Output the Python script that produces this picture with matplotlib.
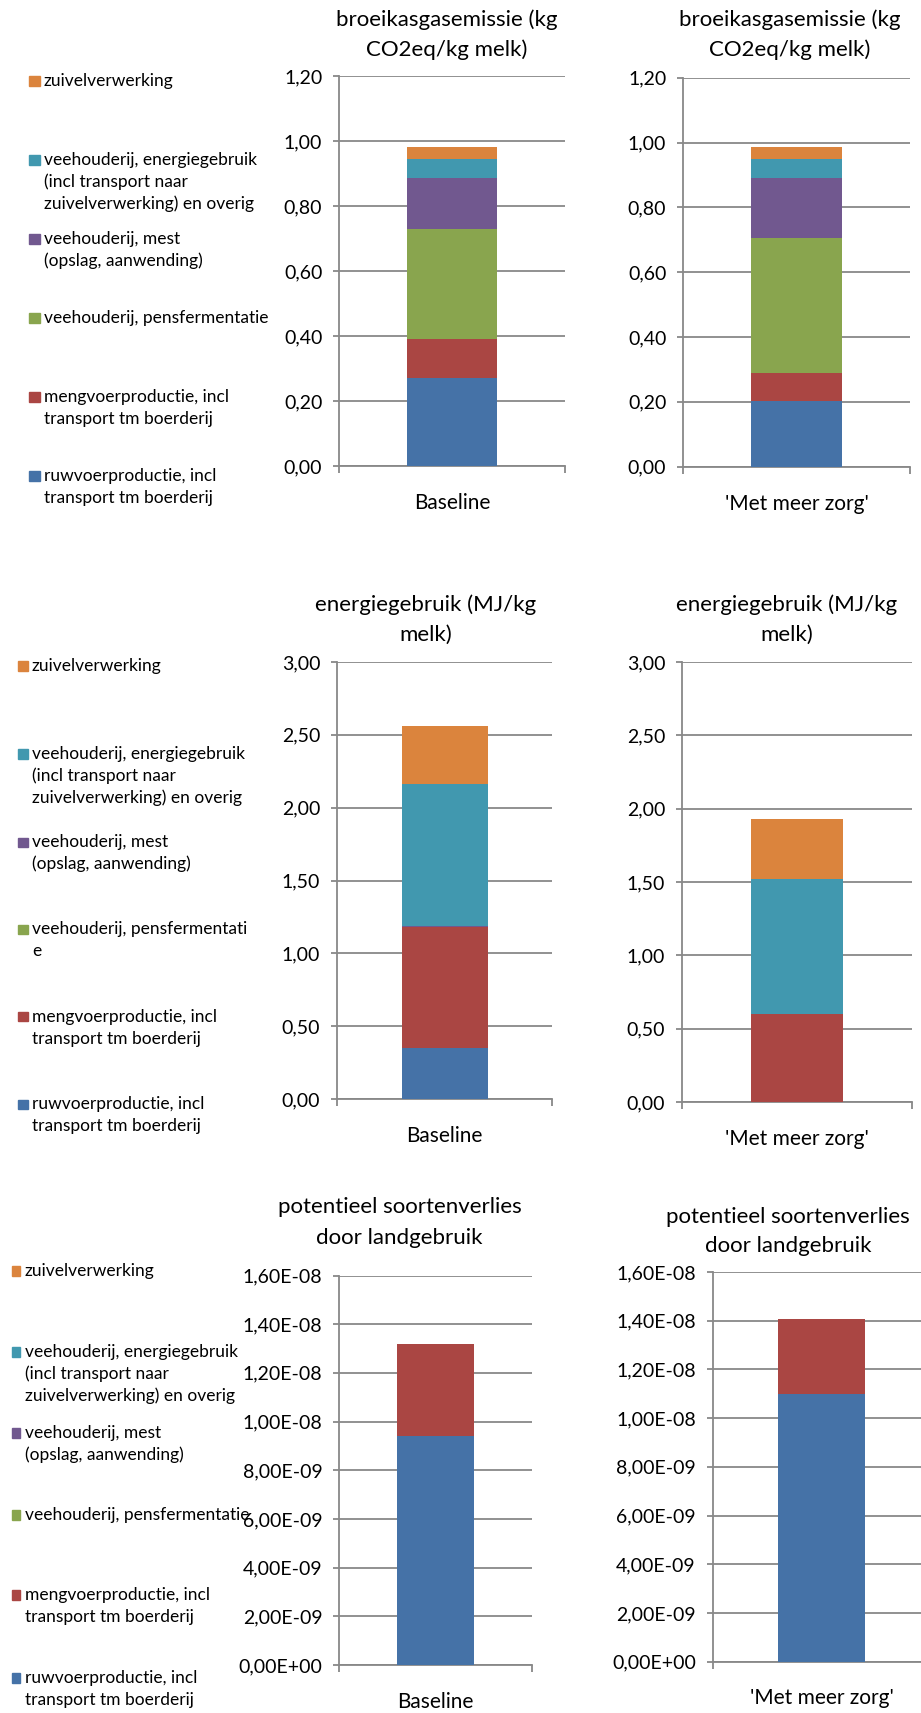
import numpy as np
import matplotlib
matplotlib.use("Agg")
import matplotlib.pyplot as plt
from matplotlib.patches import Rectangle
from matplotlib.ticker import FuncFormatter, MultipleLocator

plt.rcParams["font.family"] = ["Lato", "DejaVu Sans"]

W, H = 921, 1713

# stack order bottom -> top
SERIES = [
    "ruwvoerproductie, incl transport tm boerderij",
    "mengvoerproductie, incl transport tm boerderij",
    "veehouderij, pensfermentatie",
    "veehouderij, mest (opslag, aanwending)",
    "veehouderij, energiegebruik (incl transport naar zuivelverwerking) en overig",
    "zuivelverwerking",
]
COLORS = ["#4572A7", "#AA4643", "#89A54E", "#71588F", "#4198AF", "#DB843D"]
CATEGORIES = ["Baseline", "'Met meer zorg'"]

ghg_baseline = [0.272, 0.120, 0.338, 0.156, 0.059, 0.037]
ghg_zorg = [0.202, 0.087, 0.416, 0.186, 0.059, 0.037]
energy_baseline = [0.35, 0.83, 0.0, 0.01, 0.97, 0.40]
energy_zorg = [0.0, 0.60, 0.0, 0.0, 0.92, 0.41]
land_baseline = [9.41e-9, 3.78e-9, 0.0, 0.0, 0.0, 0.0]
land_zorg = [1.10e-8, 3.07e-9, 0.0, 0.0, 0.0, 0.0]

TITLE_GHG = ["broeikasgasemissie (kg", "CO2eq/kg melk)"]
TITLE_ENERGY = ["energiegebruik (MJ/kg", "melk)"]
TITLE_LAND = ["potentieel soortenverlies", "door landgebruik"]

# legend text, top -> bottom, as wrapped in each legend box
LEGEND_A = ["zuivelverwerking",
            "veehouderij, energiegebruik\n(incl transport naar\nzuivelverwerking) en overig",
            "veehouderij, mest\n(opslag, aanwending)",
            "veehouderij, pensfermentatie",
            "mengvoerproductie, incl\ntransport tm boerderij",
            "ruwvoerproductie, incl\ntransport tm boerderij"]
LEGEND_B = LEGEND_A[:3] + ["veehouderij, pensfermentati\ne"] + LEGEND_A[4:]

GRID = "#888888"

fig = plt.figure(figsize=(W / 100, H / 100), dpi=100)


def box(l, r, t, b):
    return [l / W, 1 - b / H, (r - l) / W, (b - t) / H]


def fx(x):
    return x / W


def fy(y):
    return 1 - y / H


def comma2(v, _):
    return f"{v:.2f}".replace(".", ",")


def comma_sci(v, _):
    return f"{v:.2E}".replace(".", ",")


def panel(rect, values, category, ymax, step, fmt, title, tx, ty):
    ax = fig.add_axes(box(*rect))
    bottom = 0.0
    for v, c in zip(values, COLORS):
        ax.bar(0, v, width=0.4, bottom=bottom, color=c, linewidth=0, zorder=3)
        bottom += v
    ax.set_xlim(-0.5, 0.5)
    ax.set_ylim(0, ymax)
    ax.yaxis.set_major_locator(MultipleLocator(step))
    ax.yaxis.set_major_formatter(FuncFormatter(fmt))
    ax.grid(True, axis="y", color=GRID, linewidth=1.3, zorder=0)
    ax.set_axisbelow(True)
    for s in ("top", "right"):
        ax.spines[s].set_visible(False)
    for s in ("left", "bottom"):
        ax.spines[s].set_color(GRID)
        ax.spines[s].set_linewidth(1.3)
    ax.set_xticks([-0.5, 0.5])
    ax.set_xticklabels([])
    ax.tick_params(axis="x", length=5, width=1.3, color=GRID)
    ax.tick_params(axis="y", length=4, width=1.3, color=GRID, labelsize=14, pad=8)
    ax.annotate(category, xy=(0, 0), xycoords=("data", "axes fraction"),
                xytext=(0, -26.5), textcoords="offset points",
                ha="center", va="center", fontsize=15)
    for i, line in enumerate(title):
        fig.text(fx(tx), fy(ty[i]), line, ha="center", va="center", fontsize=16)
    return ax


def legend(labels, sq_x, sq_w, sq_h, text_x, ys, line_gap):
    for lbl, col, y in zip(labels, COLORS[::-1], ys):
        fig.patches.append(Rectangle((fx(sq_x), fy(y + sq_h / 2)), sq_w / W, sq_h / H,
                                     transform=fig.transFigure, color=col, figure=fig))
        for j, line in enumerate(lbl.split("\n")):
            fig.text(fx(text_x), fy(y + j * line_gap), line, ha="left", va="center",
                     fontsize=12.5)


# row 1: greenhouse gas
panel((339, 565, 76, 466), ghg_baseline, CATEGORIES[0], 1.2, 0.2, comma2,
      TITLE_GHG, 447, (20, 50))
panel((683, 910, 77.7, 466.7), ghg_zorg, CATEGORIES[1], 1.2, 0.2, comma2,
      TITLE_GHG, 790, (20, 50))
legend(LEGEND_A, 29, 11, 9, 44, [81, 160, 239, 318, 397, 476], 22)

# row 2: energy
panel((337, 552, 662, 1099), energy_baseline, CATEGORIES[0], 3.0, 0.5, comma2,
      TITLE_ENERGY, 426, (604.5, 635))
panel((682, 912, 662, 1102), energy_zorg, CATEGORIES[1], 3.0, 0.5, comma2,
      TITLE_ENERGY, 787, (604.5, 635))
legend(LEGEND_B, 18, 10, 9, 32, [666, 754, 842, 929, 1017, 1104], 22)

# row 3: land use
panel((339, 532, 1275.5, 1665), land_baseline, CATEGORIES[0], 1.6e-8, 2e-9, comma_sci,
      TITLE_LAND, 399.5, (1207, 1238))
panel((712.5, 931, 1272, 1661.6), land_zorg, CATEGORIES[1], 1.6e-8, 2e-9, comma_sci,
      TITLE_LAND, 788, (1217, 1246))
legend(LEGEND_A, 12, 7.5, 10, 24.7, [1271, 1352, 1433, 1515, 1595, 1678], 22)

fig.savefig("out.png", dpi=100)
